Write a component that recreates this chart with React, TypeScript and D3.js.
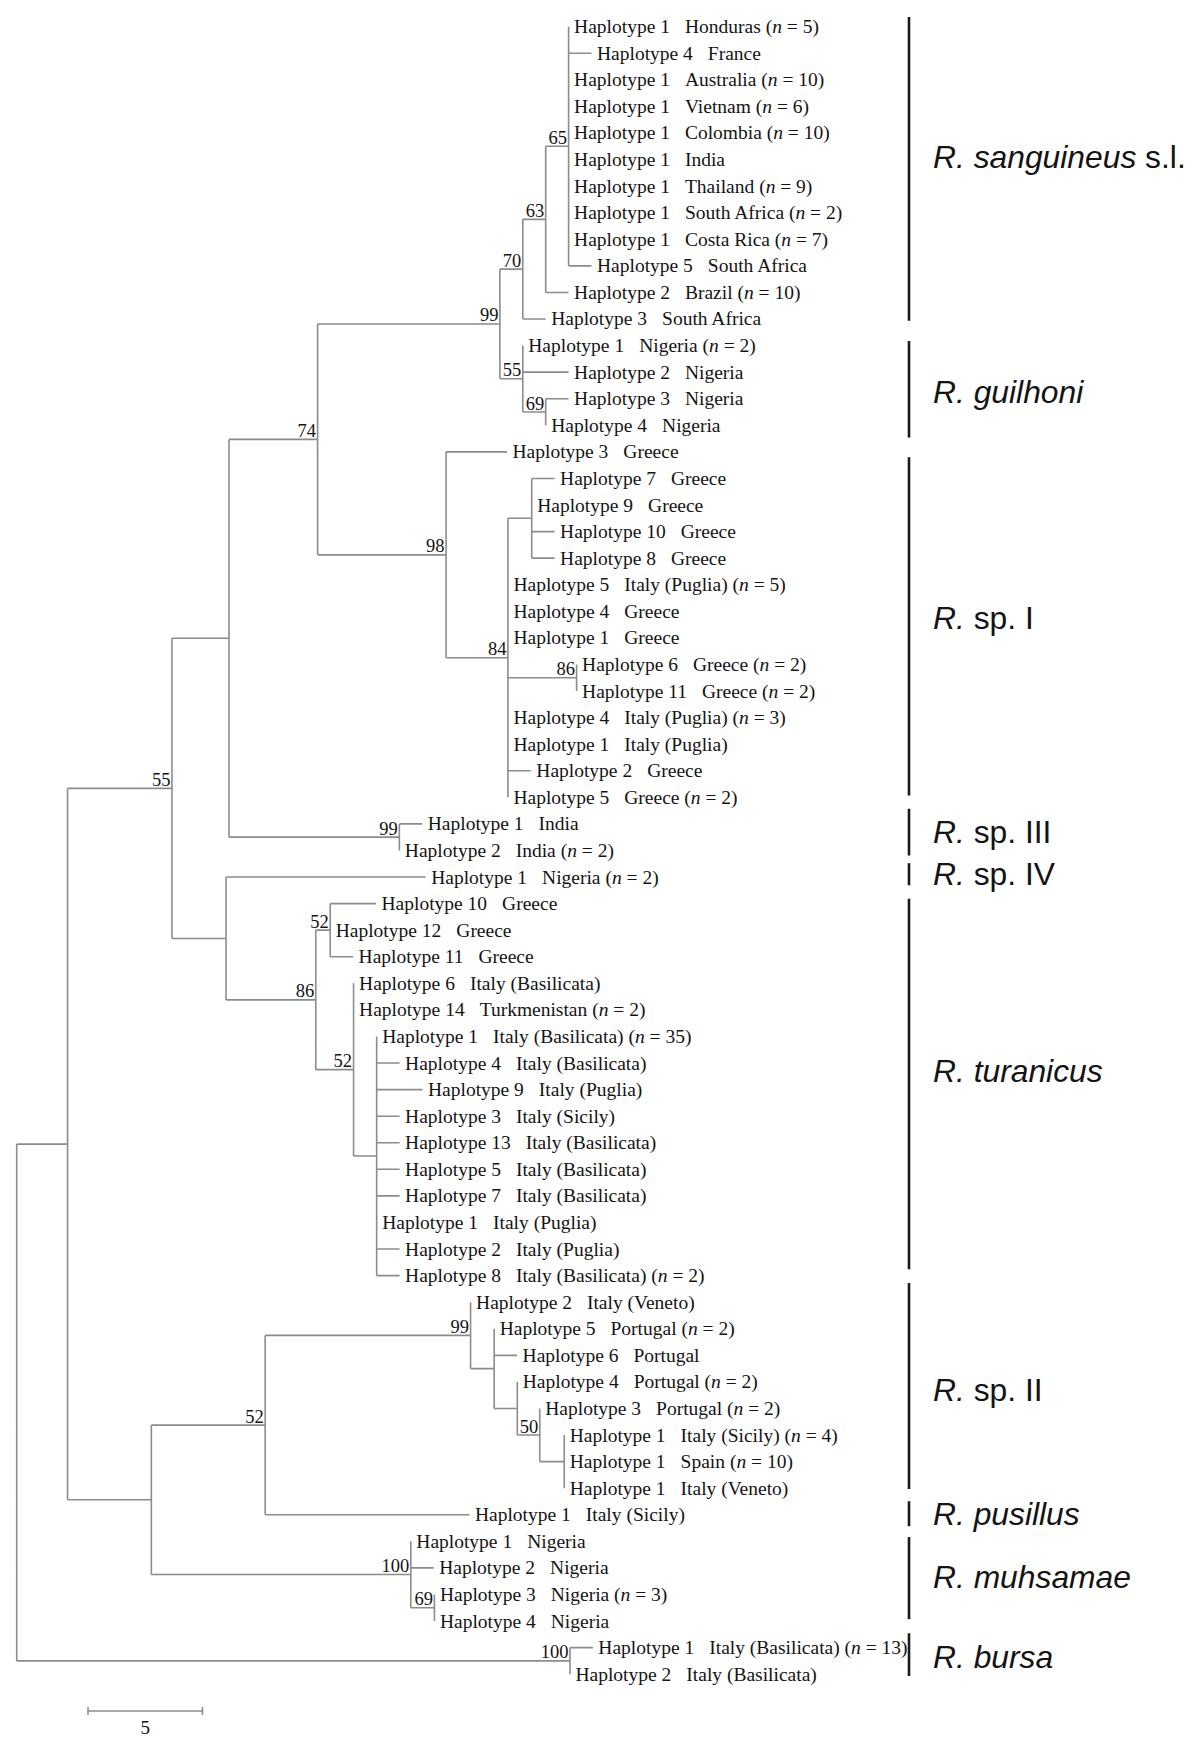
import React from 'react';
import * as d3 from 'd3';

// ---------- leaf data: [haplotype, origin, n] ----------
const LEAVES: [string, string, number | null][] = [
  ['Haplotype 1', 'Honduras', 5],
  ['Haplotype 4', 'France', null],
  ['Haplotype 1', 'Australia', 10],
  ['Haplotype 1', 'Vietnam', 6],
  ['Haplotype 1', 'Colombia', 10],
  ['Haplotype 1', 'India', null],
  ['Haplotype 1', 'Thailand', 9],
  ['Haplotype 1', 'South Africa', 2],
  ['Haplotype 1', 'Costa Rica', 7],
  ['Haplotype 5', 'South Africa', null],
  ['Haplotype 2', 'Brazil', 10],
  ['Haplotype 3', 'South Africa', null],
  ['Haplotype 1', 'Nigeria', 2],
  ['Haplotype 2', 'Nigeria', null],
  ['Haplotype 3', 'Nigeria', null],
  ['Haplotype 4', 'Nigeria', null],
  ['Haplotype 3', 'Greece', null],
  ['Haplotype 7', 'Greece', null],
  ['Haplotype 9', 'Greece', null],
  ['Haplotype 10', 'Greece', null],
  ['Haplotype 8', 'Greece', null],
  ['Haplotype 5', 'Italy (Puglia)', 5],
  ['Haplotype 4', 'Greece', null],
  ['Haplotype 1', 'Greece', null],
  ['Haplotype 6', 'Greece', 2],
  ['Haplotype 11', 'Greece', 2],
  ['Haplotype 4', 'Italy (Puglia)', 3],
  ['Haplotype 1', 'Italy (Puglia)', null],
  ['Haplotype 2', 'Greece', null],
  ['Haplotype 5', 'Greece', 2],
  ['Haplotype 1', 'India', null],
  ['Haplotype 2', 'India', 2],
  ['Haplotype 1', 'Nigeria', 2],
  ['Haplotype 10', 'Greece', null],
  ['Haplotype 12', 'Greece', null],
  ['Haplotype 11', 'Greece', null],
  ['Haplotype 6', 'Italy (Basilicata)', null],
  ['Haplotype 14', 'Turkmenistan', 2],
  ['Haplotype 1', 'Italy (Basilicata)', 35],
  ['Haplotype 4', 'Italy (Basilicata)', null],
  ['Haplotype 9', 'Italy (Puglia)', null],
  ['Haplotype 3', 'Italy (Sicily)', null],
  ['Haplotype 13', 'Italy (Basilicata)', null],
  ['Haplotype 5', 'Italy (Basilicata)', null],
  ['Haplotype 7', 'Italy (Basilicata)', null],
  ['Haplotype 1', 'Italy (Puglia)', null],
  ['Haplotype 2', 'Italy (Puglia)', null],
  ['Haplotype 8', 'Italy (Basilicata)', 2],
  ['Haplotype 2', 'Italy (Veneto)', null],
  ['Haplotype 5', 'Portugal', 2],
  ['Haplotype 6', 'Portugal', null],
  ['Haplotype 4', 'Portugal', 2],
  ['Haplotype 3', 'Portugal', 2],
  ['Haplotype 1', 'Italy (Sicily)', 4],
  ['Haplotype 1', 'Spain', 10],
  ['Haplotype 1', 'Italy (Veneto)', null],
  ['Haplotype 1', 'Italy (Sicily)', null],
  ['Haplotype 1', 'Nigeria', null],
  ['Haplotype 2', 'Nigeria', null],
  ['Haplotype 3', 'Nigeria', 3],
  ['Haplotype 4', 'Nigeria', null],
  ['Haplotype 1', 'Italy (Basilicata)', 13],
  ['Haplotype 2', 'Italy (Basilicata)', null],
];

// ---------- topology (branch lengths in substitutions, bootstrap) ----------
type TNode = { len: number; boot?: number; leaf?: number; children?: TNode[] };
const L = (leaf: number, len = 0): TNode => ({ leaf, len });
const N = (len: number, boot: number | undefined, children: TNode[]): TNode => ({ len, boot, children });

const SANGUINEUS_SL = N(1.0, 70, [
  N(1.0, 63, [
    N(1.0, 65, [L(0), L(1, 1), L(2), L(3), L(4), L(5), L(6), L(7), L(8), L(9, 1)]),
    L(10, 1),
  ]),
  L(11, 1),
]);
const GUILHONI = N(1.0, 55, [L(12), L(13, 2), N(1.0, 69, [L(14, 1), L(15)])]);
const SP_I = N(5.61, 98, [
  L(16, 2.66),
  N(2.7, 84, [
    N(1.04, undefined, [L(17, 1), L(18), L(19, 1), L(20, 1)]),
    L(21), L(22), L(23),
    N(3.0, 86, [L(24), L(25)]),
    L(26), L(27), L(28, 1), L(29),
  ]),
]);
const SP_III = N(7.44, 99, [L(30, 1), L(31)]);
const SP_IV = L(32, 8.72);
const TURANICUS = N(3.92, 86, [
  N(0.63, 52, [L(33, 2), L(34), L(35, 1)]),
  N(1.65, 52, [
    L(36), L(37),
    N(1.01, undefined, [L(38), L(39, 1), L(40, 2), L(41, 1), L(42, 1), L(43, 1), L(44, 1), L(45), L(46, 1), L(47, 1)]),
  ]),
]);
const SP_II = N(8.97, 99, [
  L(48),
  N(1.03, undefined, [
    L(49), L(50, 1),
    N(1.01, undefined, [L(51), N(0.98, 50, [L(52), N(1.07, undefined, [L(53), L(54), L(55)])])]),
  ]),
]);
const PUSILLUS = L(56, 8.92);
const MUHSAMAE = N(11.33, 100, [L(57), L(58, 1), N(1.03, 69, [L(59), L(60)])]);
const BURSA = N(24.16, 100, [L(61, 1), L(62)]);

const TREE = N(0, undefined, [
  N(2.22, undefined, [
    N(4.56, 55, [
      N(2.49, undefined, [
        N(3.87, 74, [N(7.96, 99, [SANGUINEUS_SL, GUILHONI]), SP_I]),
        SP_III,
      ]),
      N(2.36, undefined, [SP_IV, TURANICUS]),
    ]),
    N(3.66, undefined, [N(4.97, 52, [SP_II, PUSILLUS]), MUHSAMAE]),
  ]),
  BURSA,
]);

// ---------- clade bars (in leaf-row units) ----------
const CLADE_ITALIC = ['R. sanguineus', 'R. guilhoni', 'R.', 'R.', 'R.', 'R. turanicus', 'R.', 'R. pusillus', 'R. muhsamae', 'R. bursa'];
const CLADE_PLAIN = [' s.l.', '', ' sp. I', ' sp. III', ' sp. IV', '', ' sp. II', '', '', ''];
const CLADE_FROM = [-0.365, 11.83, 16.2, 29.43, 31.48, 32.82, 47.28, 55.49, 56.84, 60.46];
const CLADE_TO = [11.07, 15.46, 28.93, 31.19, 32.31, 46.76, 55.03, 56.43, 59.93, 62.07];
const CLADE_LABEL_ROW = [4.9, 13.75, 22.25, 30.32, 31.88, 39.3, 51.3, 55.96, 58.35, 61.36];

const SCALE_BAR_UNITS = 5;

const W = 1200;
const H = 1743;
const SERIF = '"Liberation Serif", "Times New Roman", Times, serif';
const SANS = '"Liberation Sans", Arial, Helvetica, sans-serif';

export default function App() {
  const xScale = d3.scaleLinear().domain([0, 25]).range([16.7, 16.7 + 25 * 22.9]);
  const yScale = d3.scaleLinear().domain([0, LEAVES.length - 1]).range([26.7, 1674.2]);

  const root = d3.hierarchy<TNode>(TREE, (d) => d.children);
  const dist = new Map<any, number>();
  const ypos = new Map<any, number>();
  root.eachBefore((n) => {
    dist.set(n, (n.parent ? dist.get(n.parent)! : 0) + n.data.len);
  });
  root.eachAfter((n) => {
    if (n.children && n.children.length) {
      const a = ypos.get(n.children[0])!;
      const b = ypos.get(n.children[n.children.length - 1])!;
      ypos.set(n, (a + b) / 2);
    } else {
      ypos.set(n, yScale(n.data.leaf!));
    }
  });

  const p = d3.path();
  root.each((n) => {
    const x = xScale(dist.get(n)!);
    const y = ypos.get(n)!;
    if (n.parent) {
      const px = xScale(dist.get(n.parent)!);
      if (x - px > 0.2) {
        p.moveTo(px, y);
        p.lineTo(x, y);
      }
    }
    if (n.children && n.children.length) {
      p.moveTo(x, ypos.get(n.children[0])!);
      p.lineTo(x, ypos.get(n.children[n.children.length - 1])!);
    }
  });

  const leaves = root.leaves();
  const internals = root.descendants().filter((n) => n.children && n.data.boot !== undefined);

  const barX = 909;
  const labelX = 933;
  const sbX0 = 88;
  const sbY = 1711;
  const sbW = xScale(SCALE_BAR_UNITS) - xScale(0);

  return (
    <svg
      width={W}
      height={H}
      viewBox={`0 0 ${W} ${H}`}
      style={{ position: 'absolute', left: 0, top: 0, background: '#fff' }}
    >
      <rect x={0} y={0} width={W} height={H} fill="#fff" />
      <path d={p.toString()} fill="none" stroke="#8c8c8c" strokeWidth={1.6} />

      <g fontFamily={SERIF} fontSize={19.5} fill="#141414">
        {leaves.map((n, i) => {
          const [hap, loc, cnt] = LEAVES[n.data.leaf!];
          const x = xScale(dist.get(n)!) + 5.5;
          const y = ypos.get(n)! + 6.5;
          return (
            <text key={i} x={x} y={y} style={{ whiteSpace: 'pre' }}>
              {hap}
              <tspan dx={15}>{loc}</tspan>
              {cnt !== null ? (
                <>
                  <tspan>{' ('}</tspan>
                  <tspan fontStyle="italic">n</tspan>
                  <tspan>{` = ${cnt})`}</tspan>
                </>
              ) : null}
            </text>
          );
        })}
      </g>

      <g fontFamily={SERIF} fontSize={18.5} fill="#141414" textAnchor="end">
        {internals.map((n, i) => (
          <text key={i} x={xScale(dist.get(n)!) - 1.5} y={ypos.get(n)! - 2.5}>
            {n.data.boot}
          </text>
        ))}
      </g>

      <g>
        {CLADE_FROM.map((f, i) => (
          <line
            key={i}
            x1={barX}
            x2={barX}
            y1={yScale(f)}
            y2={yScale(CLADE_TO[i])}
            stroke="#1a1a1a"
            strokeWidth={2.6}
          />
        ))}
      </g>
      <g fontFamily={SANS} fontSize={31.8} fill="#141414">
        {CLADE_LABEL_ROW.map((r, i) => (
          <text key={i} x={labelX} y={yScale(r) + 11} style={{ whiteSpace: 'pre' }}>
            <tspan fontStyle="italic">{CLADE_ITALIC[i]}</tspan>
            {CLADE_PLAIN[i] ? <tspan>{CLADE_PLAIN[i]}</tspan> : null}
          </text>
        ))}
      </g>

      <g stroke="#8c8c8c" strokeWidth={1.6}>
        <line x1={sbX0} x2={sbX0 + sbW} y1={sbY} y2={sbY} />
        <line x1={sbX0} x2={sbX0} y1={sbY - 4} y2={sbY + 4} />
        <line x1={sbX0 + sbW} x2={sbX0 + sbW} y1={sbY - 4} y2={sbY + 4} />
      </g>
      <text x={sbX0 + sbW / 2} y={sbY + 23} fontFamily={SERIF} fontSize={19} textAnchor="middle" fill="#141414">
        {SCALE_BAR_UNITS}
      </text>
    </svg>
  );
}
